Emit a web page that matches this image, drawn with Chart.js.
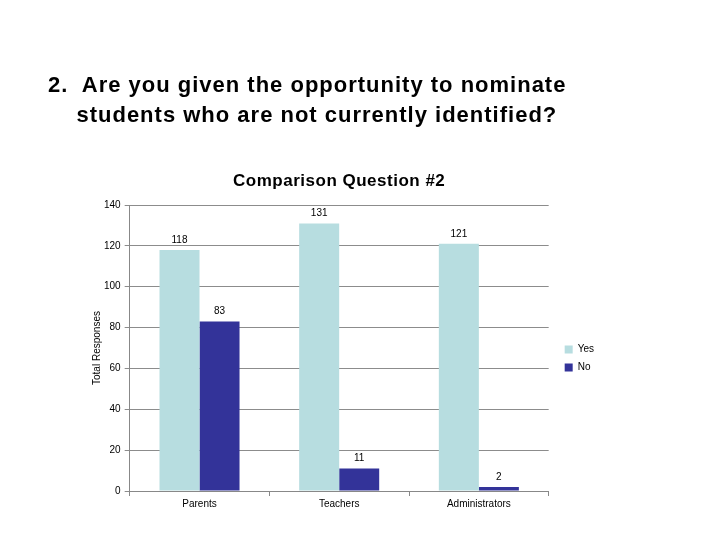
<!DOCTYPE html>
<html>
<head>
<meta charset="utf-8">
<script src="https://cdn.jsdelivr.net/npm/chart.js@4.4.0/dist/chart.umd.min.js"></script>
<style>
    body { margin: 0; background: #fff; }
    #wrap { position: relative; width: 720px; height: 540px; }
    #heading {
        position: absolute; left: 48px; top: 70px;
        font: bold 22px "Liberation Sans", Arial, sans-serif;
        letter-spacing: 1px;
        line-height: 30px; color: #000; white-space: pre;
    }
    canvas { position: absolute; left: 0; top: 0; }
</style>
</head>
<body>
<div id="wrap">
    <canvas id="chart" width="720" height="540"></canvas>
    <div id="heading">2.  Are you given the opportunity to nominate
    students who are not currently identified?</div>
</div>
<script>
const categories = ['Parents', 'Teachers', 'Administrators'];
const yesValues = [118, 131, 121];
const noValues = [83, 11, 2];
const yTicks = [0, 20, 40, 60, 80, 100, 120, 140];

const FONT = '"Liberation Sans", Arial, sans-serif';

// Value labels above each bar
const valueLabels = {
    id: 'valueLabels',
    afterDatasetsDraw(chart) {
        const ctx = chart.ctx;
        ctx.save();
        ctx.font = '10px ' + FONT;
        ctx.fillStyle = '#000';
        ctx.textAlign = 'center';
        ctx.textBaseline = 'bottom';
        chart.data.datasets.forEach((ds, i) => {
            chart.getDatasetMeta(i).data.forEach((bar, j) => {
                ctx.fillText(ds.data[j], bar.x, bar.y - 5);
            });
        });
        ctx.restore();
    }
};

// Chart title centred over the plot area
const plotTitle = {
    id: 'plotTitle',
    afterDraw(chart) {
        const ctx = chart.ctx;
        const area = chart.chartArea;
        ctx.save();
        ctx.font = 'bold 17px ' + FONT;
        ctx.letterSpacing = '0.5px';
        ctx.fillStyle = '#000';
        ctx.textAlign = 'center';
        ctx.textBaseline = 'middle';
        ctx.fillText('Comparison Question #2', (area.left + area.right) / 2, 181);
        ctx.restore();
    }
};

new Chart(document.getElementById('chart'), {
    type: 'bar',
    data: {
        labels: categories,
        datasets: [
            {
                label: 'Yes',
                data: yesValues,
                backgroundColor: '#b7dde0',
                categoryPercentage: 0.573,
                barPercentage: 1
            },
            {
                label: 'No',
                data: noValues,
                backgroundColor: '#333399',
                categoryPercentage: 0.573,
                barPercentage: 1
            }
        ]
    },
    options: {
        responsive: false,
        animation: false,
        layout: { padding: { top: 205, left: 88, right: 116, bottom: 28 } },
        plugins: {
            title: { display: false },
            tooltip: { enabled: false },
            legend: {
                position: 'right',
                labels: {
                    boxWidth: 8,
                    boxHeight: 8,
                    padding: 8,
                    color: '#000',
                    font: { family: FONT, size: 10 }
                }
            }
        },
        scales: {
            x: {
                grid: {
                    offset: true,
                    drawOnChartArea: false,
                    drawTicks: true,
                    tickLength: 5,
                    color: '#888'
                },
                border: { color: '#888' },
                ticks: {
                    color: '#000',
                    font: { family: FONT, size: 10 },
                    padding: 2
                }
            },
            y: {
                min: 0,
                max: 140,
                afterBuildTicks(axis) {
                    axis.ticks = yTicks.map(v => ({ value: v }));
                },
                grid: {
                    color: '#8c8c8c',
                    tickLength: 5
                },
                border: { color: '#888' },
                ticks: {
                    color: '#000',
                    font: { family: FONT, size: 10 },
                    padding: 4
                },
                title: {
                    display: true,
                    text: 'Total Responses',
                    color: '#000',
                    font: { family: FONT, size: 10 },
                    padding: { top: 3, bottom: -3 }
                }
            },
            // empty spacer between plot and legend
            gap: {
                type: 'linear',
                position: 'right',
                display: true,
                grid: { display: false, drawTicks: false },
                border: { display: false },
                ticks: { display: false },
                afterFit(scale) { scale.width = 8; }
            }
        }
    },
    plugins: [valueLabels, plotTitle]
});
</script>
</body>
</html>
